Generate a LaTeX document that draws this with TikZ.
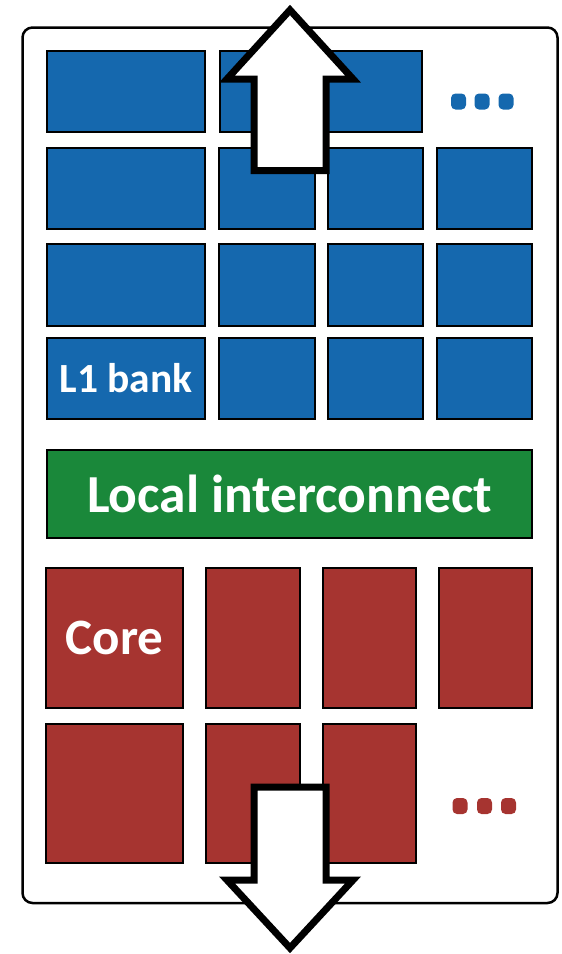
\documentclass[tikz,border=0pt]{standalone}
\usepackage{fontspec}
\setmainfont{Carlito}
\definecolor{bankblue}{RGB}{21,104,174}
\definecolor{netgreen}{RGB}{26,136,58}
\definecolor{corered}{RGB}{166,52,48}

% cell given by its outer edges: name, x1, y1, x2, y2, style, text
\newcommand\gridcell[7]{%
  \node[cell,#6,minimum width={#4-#2-2},minimum height={#5-#3-2}]
    (#1) at ({(#2+#4)/2},{(#3+#5)/2}) {#7};}

\begin{document}
\begin{tikzpicture}[x=1pt,y=-1pt,
  cell/.style={draw=black,line width=2pt,inner sep=0pt,outer sep=0pt,
               text=white,font=\bfseries},
  bank/.style={fill=bankblue},
  net/.style={fill=netgreen},
  core/.style={fill=corered},
  dotmark/.style={inner sep=0pt,minimum width=15,minimum height=16,
                  rounded corners=4.5pt},
  bigarrow/.style={draw=black,fill=white,line width=7pt,line join=miter}]
\useasboundingbox (0,0) rectangle (562,954);

% chip outline
\node[draw=black,line width=2.5pt,rounded corners=10pt,inner sep=0pt,
      minimum width=535,minimum height=875.5] (chip) at (290,465.25) {};

% L1 banks
\gridcell{b11}{46}{50}{206}{133}{bank}{}
\gridcell{b12}{219}{50}{423}{133}{bank}{}
\gridcell{b21}{46}{147}{206}{230}{bank}{}
\gridcell{b22}{218}{147}{316}{230}{bank}{}
\gridcell{b23}{327}{147}{424}{230}{bank}{}
\gridcell{b24}{436}{147}{533}{230}{bank}{}
\gridcell{b31}{46}{243}{206}{327}{bank}{}
\gridcell{b32}{218}{243}{316}{327}{bank}{}
\gridcell{b33}{327}{243}{424}{327}{bank}{}
\gridcell{b34}{436}{243}{533}{327}{bank}{}
\gridcell{b41}{46}{337}{206}{420}{bank}{\fontsize{41.5}{50}\selectfont L1 bank}
\gridcell{b42}{218}{337}{316}{420}{bank}{}
\gridcell{b43}{327}{337}{424}{420}{bank}{}
\gridcell{b44}{436}{337}{533}{420}{bank}{}

% interconnect
\gridcell{noc}{46}{449}{533}{539}{net}{\fontsize{53.5}{64}\selectfont Local interconnect}

% cores
\gridcell{c11}{45}{567}{184}{709}{core}{\fontsize{51}{60}\selectfont Core}
\gridcell{c12}{205}{567}{301}{709}{core}{}
\gridcell{c13}{322}{567}{417}{709}{core}{}
\gridcell{c14}{438}{567}{533}{709}{core}{}
\gridcell{c21}{45}{723}{184}{864}{core}{}
\gridcell{c22}{205}{723}{301}{864}{core}{}
\gridcell{c23}{322}{723}{417}{864}{core}{}

% ellipses
\node[dotmark,fill=bankblue] (bd1) at (458.5,101.5) {};
\node[dotmark,fill=bankblue] (bd2) at (482,101.5) {};
\node[dotmark,fill=bankblue] (bd3) at (506,101.5) {};
\node[dotmark,fill=corered] (rd1) at (460,806) {};
\node[dotmark,fill=corered] (rd2) at (484.5,806) {};
\node[dotmark,fill=corered] (rd3) at (508.5,806) {};

% arrows in and out of the chip
\draw[bigarrow] (290,10) -- (227,79) -- (254,79) -- (254,170.5)
  -- (326,170.5) -- (326,79) -- (353,79) -- cycle;
\draw[bigarrow] (290,948) -- (227,880) -- (254,880) -- (254,787)
  -- (326,787) -- (326,880) -- (353,880) -- cycle;
\end{tikzpicture}
\end{document}
